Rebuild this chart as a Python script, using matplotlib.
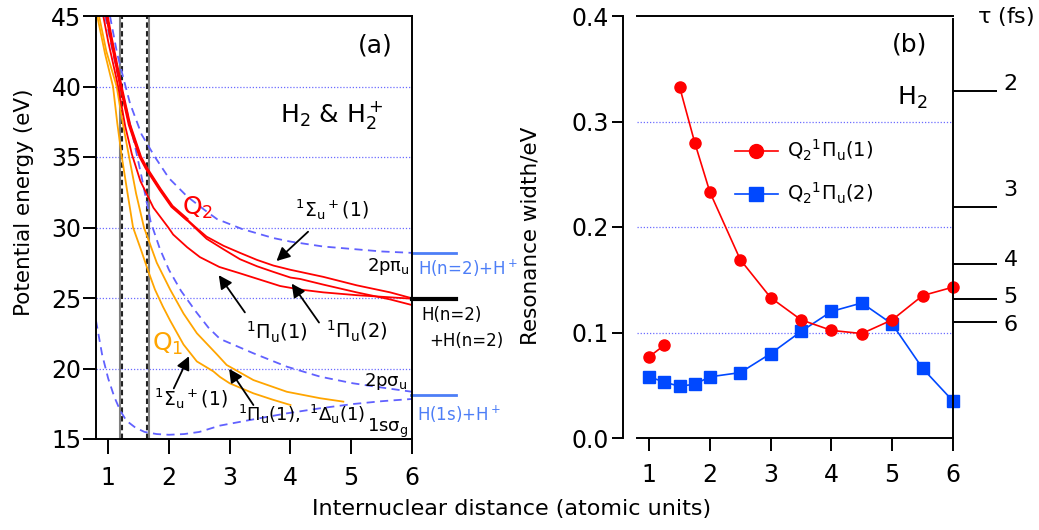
import numpy as np
import matplotlib.pyplot as plt

plt.rcParams['font.family'] = 'DejaVu Sans'
plt.rcParams['mathtext.fontset'] = 'dejavusans'
plt.rcParams['mathtext.default'] = 'regular'

# ---- panel (a): potential curves (R in a.u., E in eV)
r_1sg = [0.8, 0.9, 1.0, 1.1, 1.2, 1.3, 1.45, 1.6, 1.8, 2.0, 2.25, 2.5, 2.84, 3.4, 3.94, 4.49, 5.03, 5.5, 6.0]
e_1sg = [23.4, 21.0, 19.3, 18.0, 17.0, 16.3, 15.8, 15.5, 15.35, 15.3, 15.35, 15.5, 15.95, 16.4, 16.82, 17.18, 17.48, 17.68, 17.84]

r_2psu = [0.95, 1.05, 1.15, 1.25, 1.4, 1.55, 1.7, 1.85, 2.0, 2.2, 2.45, 2.65, 2.84, 3.39, 3.94, 4.49, 5.03, 5.58, 6.0]
e_2psu = [45, 43.0, 41.0, 39.3, 36.6, 33.6, 30.4, 28.5, 27.0, 25.5, 24.0, 22.9, 22.1, 21.08, 20.13, 19.42, 18.95, 18.6, 18.35]

r_2ppu = [1.03, 1.15, 1.25, 1.36, 1.55, 1.77, 2.0, 2.3, 2.6, 2.79, 3.2, 3.72, 4.0, 4.54, 5.09, 5.5, 6.0]
e_2ppu = [45, 42.3, 40.6, 38.8, 36.6, 35.0, 33.5, 32.2, 31.2, 30.6, 29.9, 29.25, 29.0, 28.65, 28.45, 28.3, 28.2]

# Q1 states
r_q1_sig = [0.82, 0.95, 1.08, 1.15, 1.225, 1.32, 1.41, 1.55, 1.66, 1.77, 1.9, 2.02, 2.24, 2.46, 2.73, 2.84, 3.0, 3.39, 3.7, 4.0]
e_q1_sig = [45, 42.3, 40.0, 37.4, 35.0, 32.4, 30.0, 28.3, 26.9, 25.6, 24.4, 23.4, 21.7, 20.5, 19.8, 19.4, 18.95, 18.24, 17.8, 17.41]

r_q1_pi = [0.85, 0.97, 1.14, 1.24, 1.345, 1.46, 1.59, 1.8, 2.02, 2.24, 2.46, 2.79, 2.95, 3.39, 3.94, 4.49, 4.87]
e_q1_pi = [45, 42.5, 40.0, 37.4, 35.0, 32.4, 30.0, 27.5, 25.6, 23.9, 22.5, 21.0, 20.25, 19.18, 18.35, 17.89, 17.65]

# Q2 states
r_q2_sig = [0.98, 1.05, 1.21, 1.35, 1.53, 1.63, 1.855, 2.05, 2.29, 2.43, 2.62, 2.9, 3.17, 3.45, 3.72, 4.0, 4.54, 5.09, 5.64, 6.0]
e_q2_sig = [45, 43.4, 40.0, 37.3, 35.0, 34.2, 32.7, 31.5, 30.6, 30.05, 29.35, 28.7, 28.2, 27.7, 27.3, 27.0, 26.5, 25.9, 25.4, 24.98]

r_q2_pi2 = [0.98, 1.05, 1.21, 1.35, 1.53, 1.63, 1.855, 2.05, 2.29, 2.62, 2.9, 3.17, 3.45, 3.72, 4.0, 4.16, 4.54, 5.09, 5.64, 6.0]
e_q2_pi2 = [45, 43.4, 40.0, 37.3, 35.0, 34.2, 32.7, 31.5, 30.55, 29.2, 28.45, 27.75, 27.25, 26.85, 26.45, 26.35, 25.95, 25.4, 24.9, 24.5]

r_q2_pi1 = [0.92, 1.0, 1.165, 1.28, 1.39, 1.53, 1.745, 1.99, 2.07, 2.3, 2.51, 2.83, 3.17, 3.5, 3.83, 4.16, 4.54, 5.09, 5.64, 6.0]
e_q2_pi1 = [45, 43.2, 40.0, 37.2, 35.2, 33.3, 31.4, 30.0, 29.5, 28.6, 27.9, 27.2, 26.75, 26.3, 25.85, 25.6, 25.4, 25.2, 25.05, 24.95]

# dissociation limits
lim_n2_ion = 28.2
lim_n2_n2 = 24.9
lim_1s_ion = 18.1

# ---- panel (b): resonance widths
r_w = [1.0, 1.25, 1.5, 1.75, 2.0, 2.5, 3.0, 3.5, 4.0, 4.5, 5.0, 5.5, 6.0]
w_pi1 = [0.077, 0.088, 0.333, 0.280, 0.233, 0.169, 0.133, 0.112, 0.102, 0.099, 0.112, 0.135, 0.143]
w_pi2 = [0.058, 0.053, 0.049, 0.051, 0.058, 0.062, 0.080, 0.101, 0.120, 0.128, 0.108, 0.066, 0.035]
tau_ticks = [2, 3, 4, 5, 6]
tau_label_y = [0.336, 0.235, 0.169, 0.134, 0.107]  # where the labels sit (nudged off the ticks)
HBAR = 0.6582  # eV fs

RED = '#ff0000'
ORANGE = '#ffa500'
DASH = '#6161ff'
GRID = '#6b6bff'
LIMBLUE = '#4d7ef7'
SQBLUE = '#0048ff'

fig = plt.figure(figsize=(10.39, 5.30), dpi=100)
ax1 = fig.add_axes([96/1039, 91/530, 316/1039, 423/530])
ax2 = fig.add_axes([637/1039, 92/530, 316/1039, 422/530])

# ---------------- panel (a)
for y in [20, 25, 30, 35, 40]:
    ax1.axhline(y, color=GRID, lw=0.9, ls=(0, (1, 1.5)), zorder=1)

ax1.axvline(1.195, color='#808080', lw=1.5)
ax1.axvline(1.672, color='#808080', lw=1.5)
ax1.axvline(1.225, color='#222222', lw=1.5, dashes=(2.6, 1.6))
ax1.axvline(1.632, color='#222222', lw=1.5, dashes=(2.6, 1.6))

for r, e in [(r_1sg, e_1sg), (r_2psu, e_2psu), (r_2ppu, e_2ppu)]:
    ax1.plot(r, e, color=DASH, lw=1.3, dashes=(4.5, 3))

ax1.plot(r_q1_sig, e_q1_sig, color=ORANGE, lw=1.3)
ax1.plot(r_q1_pi, e_q1_pi, color=ORANGE, lw=1.3)
ax1.plot(r_q2_pi1, e_q2_pi1, color=RED, lw=1.3)
ax1.plot(r_q2_pi2, e_q2_pi2, color=RED, lw=1.3)
ax1.plot(r_q2_sig, e_q2_sig, color=RED, lw=1.3)
ax1.plot(r_q2_sig[:9], e_q2_sig[:9], color=RED, lw=2.4)

ax1.plot([6.0, 6.73], [lim_n2_ion] * 2, color=LIMBLUE, lw=2, clip_on=False)
ax1.plot([6.0, 6.73], [lim_n2_n2] * 2, color='k', lw=3, clip_on=False)
ax1.plot([5.98, 6.73], [lim_1s_ion] * 2, color=LIMBLUE, lw=2, clip_on=False)

ax1.set_xlim(0.8, 6.0)
ax1.set_ylim(15, 45)
ax1.set_xticks([1, 2, 3, 4, 5, 6])
ax1.set_yticks([15, 20, 25, 30, 35, 40, 45])
for s in ax1.spines.values():
    s.set_linewidth(1.4)
ax1.tick_params(axis='y', direction='out', length=9.5, width=1.4, labelsize=17, pad=1)
ax1.tick_params(axis='x', direction='out', length=10.5, width=1.4, labelsize=17, pad=9)

ax1.text(5.39, 42.94, '(a)', fontsize=18, ha='center', va='center')
ax1.text(4.68, 38.0, r'H$_2$ & H$_2^+$', fontsize=18, ha='center', va='center')
ax1.text(2.48, 31.4, r'Q$_2$', fontsize=18, color=RED, ha='center', va='center')
ax1.text(1.98, 21.74, r'Q$_1$', fontsize=18, color=ORANGE, ha='center', va='center')

ax1.text(4.675, 31.24, r'$^1\Sigma_u{}^+(1)$', fontsize=13.5, ha='center', va='center')
ax1.text(3.78, 22.59, r'$^1\Pi_u(1)$', fontsize=14, ha='center', va='center')
ax1.text(5.09, 22.66, r'$^1\Pi_u(2)$', fontsize=14, ha='center', va='center')
ax1.text(2.355, 17.87, r'$^1\Sigma_u{}^+(1)$', fontsize=13.5, ha='center', va='center')
ax1.text(3.137, 16.74, r'$^1\Pi_u(1),\ ^1\Delta_u(1)$', fontsize=13, ha='left', va='center')

ax1.text(5.97, 27.2, r'2p$\pi_u$', fontsize=13, ha='right', va='center')
ax1.text(5.92, 19.11, r'2p$\sigma_u$', fontsize=13, ha='right', va='center')
ax1.text(5.94, 15.78, r'1s$\sigma_g$', fontsize=13, ha='right', va='center')
ax1.text(6.10, 27.13, r'H(n=2)+H$^+$', fontsize=12, color=LIMBLUE, ha='left', va='center')
ax1.text(6.16, 23.76, 'H(n=2)', fontsize=12, ha='left', va='center')
ax1.text(6.28, 21.95, '+H(n=2)', fontsize=12, ha='left', va='center')
ax1.text(6.08, 16.74, r'H(1s)+H$^+$', fontsize=12, color=LIMBLUE, ha='left', va='center')

arrows = [((3.77, 27.62), (4.29, 29.7)),
          ((2.82, 26.62), (3.25, 23.98)),
          ((4.02, 26.02), (4.47, 23.26)),
          ((2.33, 20.87), (2.08, 18.59)),
          ((2.99, 19.98), (3.39, 17.41))]
for tip, tail in arrows:
    ax1.annotate('', xy=tip, xytext=tail,
                 arrowprops=dict(arrowstyle='-|>', color='k', lw=1.3,
                                 mutation_scale=20, shrinkA=0, shrinkB=0))

fig.text(24.5/1039, 1 - 202/530, 'Potential energy (eV)', fontsize=15.5,
         rotation=90, ha='center', va='center')

# ---------------- panel (b)
for y in [0.1, 0.2, 0.3]:
    ax2.axhline(y, color=GRID, lw=0.9, ls=(0, (1, 1.5)), zorder=1)

ax2.plot(r_w[:2], w_pi1[:2], color=RED, lw=1.2, marker='o', ms=8, clip_on=False, zorder=4)
ax2.plot(r_w[2:], w_pi1[2:], color=RED, lw=1.2, marker='o', ms=8, clip_on=False, zorder=4)
ax2.plot(r_w, w_pi2, color=SQBLUE, lw=1.2, marker='s', ms=8, clip_on=False, zorder=3)

h1, = ax2.plot([], [], color=RED, lw=1.2, marker='o', ms=10)
h2, = ax2.plot([], [], color=SQBLUE, lw=1.2, marker='s', ms=10)
ax2.legend([h1, h2], [r'Q$_2{}^1\Pi_u$(1)', r'Q$_2{}^1\Pi_u$(2)'],
           loc='center left', bbox_to_anchor=(0.31, 0.63), frameon=False,
           fontsize=14, handlelength=2.2, handletextpad=0.5, labelspacing=0.9,
           borderpad=0, borderaxespad=0)

ax2.set_xlim(0.8, 6.0)
ax2.set_ylim(0.0, 0.4)
ax2.set_xticks([1, 2, 3, 4, 5, 6])
ax2.set_yticks([0.0, 0.1, 0.2, 0.3, 0.4])
ax2.set_yticklabels(['0.0', '0.1', '0.2', '0.3', '0.4'])
ax2.spines['right'].set_visible(False)
ax2.spines['left'].set_position(('outward', 10))
for s in ax2.spines.values():
    s.set_linewidth(1.4)
ax2.tick_params(axis='y', direction='out', length=8, width=1.4, labelsize=17, pad=2)
ax2.tick_params(axis='x', direction='out', length=9, width=1.4, labelsize=17, pad=9)
ax2.text(5.28, 0.3732, '(b)', fontsize=18, ha='center', va='center')
ax2.text(5.33, 0.322, r'H$_2$', fontsize=18, ha='center', va='center')
fig.text(530/1039, 1 - 236/530, 'Resonance width/eV', fontsize=15.5,
         rotation=90, ha='center', va='center')

ax3 = ax2.twinx()
ax3.set_ylim(0.0, 0.4)
for side in ['left', 'top', 'bottom']:
    ax3.spines[side].set_visible(False)
ax3.spines['right'].set_linewidth(1.4)
ax3.spines['right'].set_bounds(0.0, 0.397)
ax3.set_yticks([HBAR / t for t in tau_ticks])
ax3.set_yticklabels([])
ax3.tick_params(axis='y', direction='out', length=31.5, width=1.4)
for t, yl in zip(tau_ticks, tau_label_y):
    ax3.text(1.16, yl, str(t), fontsize=16, ha='left', va='center',
             transform=ax3.get_yaxis_transform())
fig.text(1006/1039, 1 - 17/530, r'$\tau$ (fs)', fontsize=16, ha='center', va='center')

fig.text(512/1039, 1 - 509/530, 'Internuclear distance (atomic units)', fontsize=16,
         ha='center', va='center')

fig.savefig('out.png', dpi=100)
